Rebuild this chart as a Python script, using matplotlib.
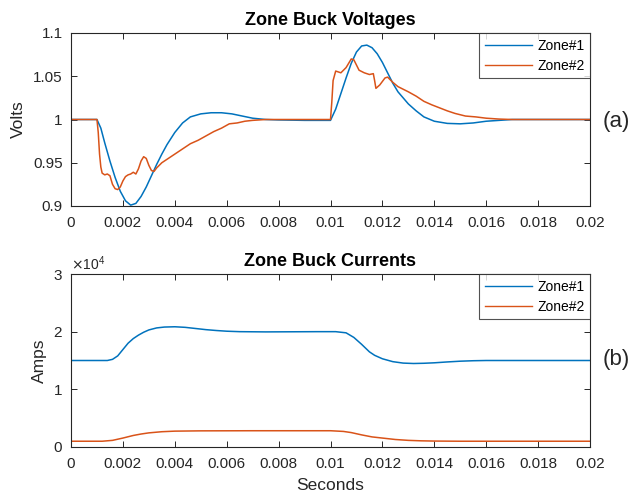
import matplotlib
matplotlib.use("Agg")
import matplotlib.pyplot as plt
from matplotlib.ticker import ScalarFormatter

plt.rcParams['font.family'] = ['Liberation Sans', 'DejaVu Sans']

# ---------------- data ----------------
t_v1 = [0, 0.001, 0.00115, 0.0013, 0.0015, 0.0017, 0.0019, 0.0021, 0.0023, 0.0025,
        0.0027, 0.0029, 0.0031, 0.0033, 0.0035, 0.0037, 0.0040, 0.0043, 0.0046, 0.0050,
        0.0054, 0.0058, 0.0062, 0.0066, 0.0070, 0.0075, 0.0080, 0.0090, 0.0100, 0.0102,
        0.0104, 0.0106, 0.0108, 0.0110, 0.0112, 0.0114, 0.0116, 0.0118, 0.0120, 0.0122,
        0.0124, 0.0126, 0.0128, 0.0130, 0.0133, 0.0136, 0.0140, 0.0145, 0.0150, 0.0155,
        0.0160, 0.0165, 0.0170, 0.0200]
v_zone1 = [1.0, 1.0, 0.990, 0.973, 0.952, 0.933, 0.917, 0.906, 0.901, 0.903,
           0.911, 0.922, 0.935, 0.948, 0.960, 0.971, 0.985, 0.996, 1.003, 1.0065,
           1.0078, 1.0078, 1.0065, 1.004, 1.0015, 1.0, 0.9995, 0.999, 0.999, 1.012,
           1.030, 1.048, 1.065, 1.078, 1.085, 1.086, 1.083, 1.076, 1.066, 1.054,
           1.042, 1.032, 1.025, 1.018, 1.010, 1.003, 0.998, 0.9955, 0.995, 0.996,
           0.998, 0.999, 1.0, 1.0]

t_v2 = [0, 0.001, 0.00105, 0.0011, 0.00115, 0.0012, 0.0013, 0.0014, 0.0015, 0.0016,
        0.0017, 0.0018, 0.0019, 0.0020, 0.0021, 0.0022, 0.0023, 0.0024, 0.0025, 0.0026,
        0.0027, 0.0028, 0.0029, 0.0030, 0.0031, 0.0032, 0.0033, 0.0035, 0.0038, 0.0040,
        0.0043, 0.0046, 0.0049, 0.0052, 0.0055, 0.0058, 0.0061, 0.0064, 0.0067, 0.0070,
        0.0075, 0.0100, 0.01005, 0.0101, 0.0102, 0.0104, 0.0106, 0.0108, 0.0109, 0.0110,
        0.0111, 0.0113, 0.0115, 0.01165, 0.0117, 0.01175, 0.0119, 0.0121, 0.0122, 0.0124,
        0.0126, 0.0128, 0.0130, 0.0133, 0.0136, 0.0139, 0.0142, 0.0145, 0.0148, 0.0152,
        0.0156, 0.0160, 0.0165, 0.0170, 0.0200]
v_zone2 = [1.0, 1.0, 0.985, 0.960, 0.945, 0.938, 0.936, 0.937, 0.935, 0.925,
           0.920, 0.919, 0.922, 0.929, 0.934, 0.936, 0.937, 0.939, 0.937, 0.943,
           0.952, 0.957, 0.955, 0.947, 0.941, 0.940, 0.944, 0.950, 0.956, 0.960,
           0.966, 0.972, 0.976, 0.981, 0.986, 0.990, 0.995, 0.996, 0.998, 0.999,
           1.0, 1.0, 1.020, 1.045, 1.056, 1.054, 1.060, 1.070, 1.069, 1.063,
           1.057, 1.054, 1.052, 1.053, 1.045, 1.036, 1.040, 1.048, 1.049, 1.043,
           1.038, 1.035, 1.032, 1.027, 1.021, 1.017, 1.0135, 1.010, 1.007, 1.004,
           1.003, 1.0015, 1.0005, 1.0, 1.0]

t_i1 = [0, 0.0014, 0.0016, 0.0018, 0.0020, 0.0022, 0.0024, 0.0026, 0.0028, 0.0030,
        0.0033, 0.0036, 0.0040, 0.0044, 0.0048, 0.0052, 0.0056, 0.0060, 0.0065, 0.0075,
        0.0085, 0.0095, 0.0102, 0.0106, 0.0109, 0.0112, 0.0115, 0.0117, 0.0120, 0.0124,
        0.0128, 0.0132, 0.0136, 0.0140, 0.0145, 0.0150, 0.0155, 0.0160, 0.0200]
i_zone1 = [15000, 15000, 15200, 15800, 16900, 18000, 18800, 19400, 19900, 20300,
           20650, 20800, 20850, 20750, 20550, 20350, 20200, 20080, 20000, 19960,
           19980, 20000, 20000, 19800, 19000, 17800, 16500, 15900, 15300, 14800,
           14550, 14480, 14520, 14600, 14750, 14880, 14960, 15000, 15000]

t_i2 = [0, 0.0012, 0.0016, 0.0020, 0.0024, 0.0027, 0.0030, 0.0035, 0.0040, 0.0050,
        0.0070, 0.0100, 0.0105, 0.0108, 0.0112, 0.0116, 0.0120, 0.0125, 0.0130, 0.0135,
        0.0140, 0.0150, 0.0200]
i_zone2 = [1000, 1000, 1150, 1550, 2000, 2250, 2450, 2650, 2750, 2800,
           2820, 2820, 2700, 2500, 2100, 1750, 1550, 1300, 1150, 1070,
           1030, 1000, 1000]

series_labels = ["Zone#1", "Zone#2"]
xticks = [0, 0.002, 0.004, 0.006, 0.008, 0.01, 0.012, 0.014, 0.016, 0.018, 0.02]
xticklabels = ["0", "0.002", "0.004", "0.006", "0.008", "0.01", "0.012", "0.014", "0.016", "0.018", "0.02"]
v_ticks = [0.9, 0.95, 1.0, 1.05, 1.1]
v_ticklabels = ["0.9", "0.95", "1", "1.05", "1.1"]
i_ticks = [0, 10000, 20000, 30000]

# ---------------- style ----------------
c1 = '#0072BD'
c2 = '#D95319'
axc = '#262626'
tick_fs = 11
label_fs = 12.5
title_fs = 13
leg_fs = 10

fig = plt.figure(figsize=(6.32, 4.97), dpi=100)
ax1 = fig.add_axes([71/632, 1-206/497, 519/632, 173/497])
ax2 = fig.add_axes([71/632, 1-447/497, 519/632, 173/497])


def style(ax):
    for s in ax.spines.values():
        s.set_color(axc)
        s.set_linewidth(0.8)
    ax.tick_params(direction='in', top=True, right=True, length=4, width=0.7,
                   colors=axc, labelsize=tick_fs, labelcolor=axc)
    ax.tick_params(axis='x', pad=7)
    ax.tick_params(axis='y', pad=6)
    ax.set_xlim(0, 0.02)
    ax.set_xticks(xticks)
    ax.set_xticklabels(xticklabels)


def legend(ax):
    leg = ax.legend(loc='upper right', fontsize=leg_fs, frameon=True, fancybox=False,
                    edgecolor=axc, handlelength=3.4, borderaxespad=0, borderpad=0.4,
                    labelspacing=0.45, handletextpad=0.36)
    leg.get_frame().set_linewidth(0.8)
    for h in leg.get_lines():
        h.set_linewidth(1.0)


ax1.plot(t_v1, v_zone1, color=c1, lw=1.1, label=series_labels[0])
ax1.plot(t_v2, v_zone2, color=c2, lw=1.1, label=series_labels[1])
style(ax1)
ax1.set_ylim(0.9, 1.1)
ax1.set_yticks(v_ticks)
ax1.set_yticklabels(v_ticklabels)
ax1.set_ylabel("Volts", fontsize=label_fs, color=axc, labelpad=5)
ax1.set_title("Zone Buck Voltages", fontsize=title_fs, fontweight='bold', pad=6, color='black')
legend(ax1)

ax2.plot(t_i1, i_zone1, color=c1, lw=1.1, label=series_labels[0])
ax2.plot(t_i2, i_zone2, color=c2, lw=1.1, label=series_labels[1])
style(ax2)
ax2.set_ylim(0, 30000)
ax2.set_yticks(i_ticks)
fmt = ScalarFormatter(useMathText=True)
fmt.set_powerlimits((0, 0))
ax2.yaxis.set_major_formatter(fmt)
ax2.yaxis.get_offset_text().set_fontsize(tick_fs - 1)
ax2.yaxis.get_offset_text().set_color(axc)
ax2.set_ylabel("Amps", fontsize=label_fs, color=axc, labelpad=4)
ax2.set_xlabel("Seconds", fontsize=label_fs, color=axc, labelpad=5)
ax2.set_title("Zone Buck Currents", fontsize=title_fs, fontweight='bold', pad=6, color='black')
legend(ax2)

fig.text(603/632, 1-122/497, "(a)", fontsize=16, va='center', ha='left', color=axc)
fig.text(603/632, 1-360/497, "(b)", fontsize=16, va='center', ha='left', color=axc)

fig.savefig("out.png", dpi=100, facecolor='white')
